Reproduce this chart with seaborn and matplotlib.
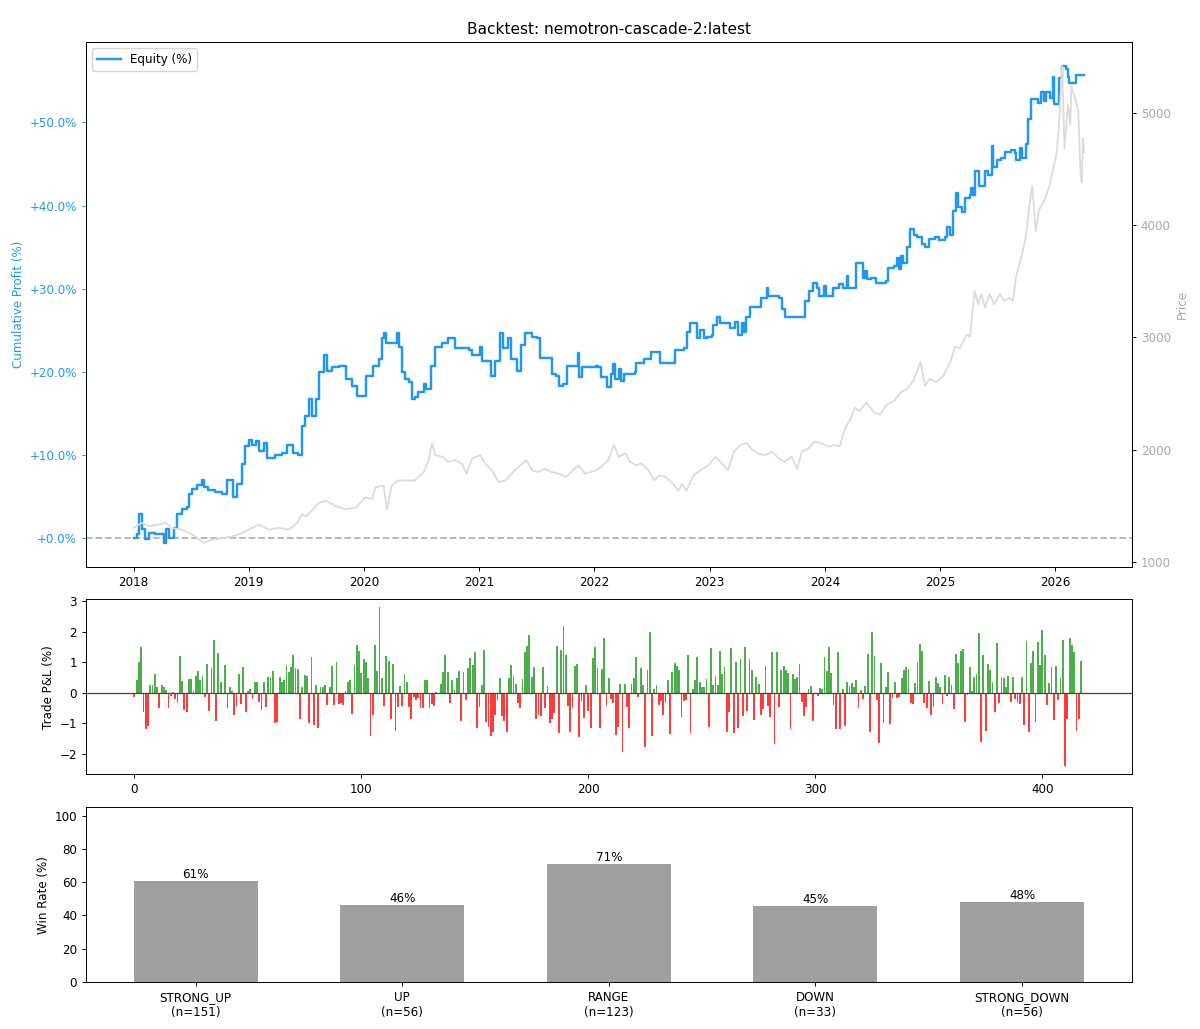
# Backtest chart: equity curve + price, trade P&L bars, win rate per regime
# =============================================================

import matplotlib
matplotlib.use("Agg")
import matplotlib.pyplot as plt
from matplotlib.ticker import FuncFormatter
import seaborn as sns

# -------------------------------------------------------------
# DATA
# -------------------------------------------------------------

TITLE = "Backtest: nemotron-cascade-2:latest"

# Equity curve (%) - decimal year / value
EQ_YEARS = [
    2018.00, 2018.03, 2018.05, 2018.07, 2018.10, 2018.13, 2018.19, 2018.24, 2018.26, 2018.28,
    2018.31, 2018.35, 2018.38, 2018.42, 2018.46, 2018.48, 2018.51, 2018.55, 2018.59, 2018.61,
    2018.65, 2018.71, 2018.77, 2018.81, 2018.86, 2018.90, 2018.94, 2018.97, 2019.00, 2019.03,
    2019.06, 2019.09, 2019.13, 2019.16, 2019.23, 2019.29, 2019.33, 2019.38, 2019.43, 2019.46,
    2019.49, 2019.52, 2019.55, 2019.58, 2019.61, 2019.65, 2019.68, 2019.72, 2019.78, 2019.84,
    2019.90, 2019.94, 2019.99, 2020.02, 2020.08, 2020.13, 2020.16, 2020.17, 2020.19, 2020.25,
    2020.29, 2020.30, 2020.33, 2020.36, 2020.39, 2020.42, 2020.44, 2020.47, 2020.52, 2020.54,
    2020.58, 2020.62, 2020.68, 2020.73, 2020.76, 2020.79, 2020.91, 2020.94, 2021.01, 2021.02,
    2021.07, 2021.10, 2021.14, 2021.18, 2021.21, 2021.25, 2021.28, 2021.33, 2021.36, 2021.40,
    2021.43, 2021.46, 2021.50, 2021.53, 2021.60, 2021.63, 2021.67, 2021.69, 2021.73, 2021.76,
    2021.83, 2021.86, 2021.87, 2021.89, 2022.01, 2022.03, 2022.06, 2022.11, 2022.14, 2022.16,
    2022.18, 2022.21, 2022.23, 2022.26, 2022.35, 2022.36, 2022.43, 2022.49, 2022.56, 2022.57,
    2022.69, 2022.70, 2022.78, 2022.80, 2022.83, 2022.88, 2022.89, 2022.92, 2022.95, 2022.98,
    2023.02, 2023.03, 2023.06, 2023.09, 2023.16, 2023.18, 2023.22, 2023.25, 2023.28, 2023.30,
    2023.32, 2023.35, 2023.42, 2023.45, 2023.50, 2023.51, 2023.60, 2023.63, 2023.65, 2023.80,
    2023.83, 2023.86, 2023.90, 2023.93, 2023.95, 2023.99, 2024.01, 2024.07, 2024.12, 2024.16,
    2024.19, 2024.20, 2024.25, 2024.27, 2024.30, 2024.33, 2024.35, 2024.37, 2024.40, 2024.44,
    2024.48, 2024.53, 2024.55, 2024.60, 2024.63, 2024.64, 2024.66, 2024.68, 2024.71, 2024.74,
    2024.77, 2024.80, 2024.83, 2024.84, 2024.87, 2024.90, 2024.96, 2024.99, 2025.04, 2025.06,
    2025.09, 2025.11, 2025.14, 2025.16, 2025.19, 2025.22, 2025.26, 2025.27, 2025.29, 2025.30,
    2025.33, 2025.34, 2025.37, 2025.39, 2025.42, 2025.45, 2025.46, 2025.49, 2025.53, 2025.56,
    2025.62, 2025.65, 2025.66, 2025.69, 2025.71, 2025.75, 2025.76, 2025.79, 2025.83, 2025.85,
    2025.88, 2025.90, 2025.92, 2025.95, 2025.98, 2025.99, 2026.03, 2026.06, 2026.09, 2026.11,
    2026.12, 2026.18, 2026.25,
]
EQ_VALUES = [
    0.0, 0.5, 2.8, 1.0, -0.2, 0.6, 0.4, 0.5, -0.6, 1.0,
    0.0, 1.2, 2.8, 3.5, 3.7, 5.3, 5.9, 6.3, 6.9, 6.1,
    5.7, 5.5, 5.3, 6.9, 4.9, 6.5, 8.9, 11.0, 11.8, 11.2,
    11.6, 10.4, 11.4, 9.6, 10.0, 10.2, 11.2, 10.2, 10.0, 13.4,
    14.6, 16.7, 14.6, 16.7, 19.9, 22.0, 20.1, 20.5, 20.7, 19.1,
    18.3, 17.1, 17.1, 19.5, 20.7, 21.5, 24.0, 24.6, 23.4, 23.4,
    24.6, 23.0, 19.9, 19.1, 18.7, 16.7, 16.9, 17.5, 18.5, 17.9,
    20.7, 23.0, 23.4, 24.0, 24.0, 22.8, 22.6, 22.0, 23.0, 21.3,
    21.3, 19.5, 21.3, 24.6, 22.8, 24.0, 21.5, 20.1, 23.2, 24.6,
    24.6, 24.2, 24.0, 21.7, 21.7, 19.7, 19.5, 18.3, 18.5, 20.7,
    20.7, 22.2, 19.3, 20.5, 20.7, 20.5, 19.3, 18.1, 19.7, 20.9,
    19.1, 20.3, 18.9, 19.7, 19.9, 21.1, 21.5, 22.4, 22.4, 21.1,
    21.1, 22.6, 22.8, 24.8, 25.8, 25.8, 24.0, 25.0, 24.0, 24.2,
    24.4, 25.6, 26.6, 25.8, 25.8, 25.2, 26.0, 24.4, 25.8, 24.8,
    26.6, 27.8, 27.8, 28.9, 30.1, 29.1, 28.9, 27.6, 26.6, 26.6,
    28.5, 29.7, 30.7, 30.1, 29.1, 30.3, 29.1, 30.1, 30.5, 30.1,
    31.5, 30.1, 30.1, 33.1, 33.1, 31.3, 32.1, 31.1, 31.3, 30.7,
    30.7, 30.9, 32.5, 32.7, 33.7, 32.3, 33.9, 33.1, 35.0, 37.2,
    36.4, 36.2, 36.2, 35.4, 35.0, 36.0, 36.2, 35.8, 36.2, 37.4,
    36.4, 39.4, 41.5, 39.8, 39.2, 40.9, 41.3, 42.1, 41.3, 44.1,
    44.1, 42.3, 42.3, 44.1, 43.7, 47.2, 44.7, 45.5, 45.7, 46.5,
    46.7, 46.3, 45.5, 46.9, 45.7, 47.4, 50.4, 52.8, 52.8, 52.4,
    53.7, 52.6, 53.7, 53.0, 55.5, 52.2, 55.3, 56.8, 56.5, 55.5,
    54.7, 55.7, 55.7,
]

# Price (right axis) - decimal year / value
PRICE_YEARS = [
    2018.00, 2018.07, 2018.13, 2018.22, 2018.28, 2018.33, 2018.42, 2018.51, 2018.61, 2018.68,
    2018.77, 2018.86, 2018.94, 2019.00, 2019.09, 2019.17, 2019.26, 2019.35, 2019.42, 2019.46,
    2019.50, 2019.57, 2019.61, 2019.67, 2019.75, 2019.84, 2019.93, 2020.01, 2020.07, 2020.10,
    2020.17, 2020.20, 2020.24, 2020.30, 2020.39, 2020.44, 2020.52, 2020.56, 2020.59, 2020.62,
    2020.68, 2020.73, 2020.79, 2020.85, 2020.89, 2020.94, 2021.01, 2021.05, 2021.11, 2021.17,
    2021.23, 2021.28, 2021.34, 2021.41, 2021.46, 2021.51, 2021.57, 2021.63, 2021.69, 2021.75,
    2021.80, 2021.86, 2021.92, 2022.01, 2022.06, 2022.12, 2022.17, 2022.21, 2022.27, 2022.31,
    2022.36, 2022.41, 2022.47, 2022.52, 2022.56, 2022.62, 2022.67, 2022.73, 2022.76, 2022.80,
    2022.86, 2022.92, 2022.99, 2023.05, 2023.11, 2023.16, 2023.21, 2023.27, 2023.32, 2023.37,
    2023.42, 2023.48, 2023.54, 2023.60, 2023.65, 2023.71, 2023.76, 2023.80, 2023.86, 2023.91,
    2023.97, 2024.03, 2024.09, 2024.13, 2024.17, 2024.22, 2024.26, 2024.30, 2024.36, 2024.43,
    2024.48, 2024.54, 2024.60, 2024.66, 2024.71, 2024.77, 2024.83, 2024.87, 2024.91, 2024.97,
    2025.03, 2025.09, 2025.13, 2025.17, 2025.23, 2025.26, 2025.30, 2025.33, 2025.36, 2025.39,
    2025.43, 2025.47, 2025.52, 2025.56, 2025.60, 2025.63, 2025.66, 2025.69, 2025.72, 2025.75,
    2025.77, 2025.80, 2025.83, 2025.86, 2025.91, 2025.95, 2025.98, 2026.01, 2026.03, 2026.06,
    2026.08, 2026.11, 2026.13, 2026.14, 2026.16, 2026.18, 2026.20, 2026.22, 2026.23, 2026.24,
    2026.25,
]
PRICE_VALUES = [
    1302, 1347, 1317, 1332, 1347, 1302, 1287, 1242, 1170, 1196,
    1211, 1226, 1257, 1287, 1332, 1287, 1302, 1287, 1347, 1423,
    1408, 1483, 1528, 1544, 1498, 1468, 1483, 1574, 1559, 1664,
    1679, 1468, 1679, 1725, 1725, 1725, 1800, 1906, 2057, 1951,
    1936, 1891, 1906, 1876, 1785, 1921, 1951, 1876, 1815, 1710,
    1725, 1785, 1846, 1906, 1815, 1800, 1830, 1800, 1785, 1755,
    1800, 1861, 1785, 1815, 1846, 1906, 2042, 1936, 1966, 1891,
    1861, 1876, 1815, 1725, 1770, 1755, 1710, 1634, 1695, 1634,
    1770, 1815, 1861, 1936, 1876, 1815, 1981, 2042, 2060, 2000,
    1966, 1951, 1981, 1921, 1891, 1936, 1830, 1981, 2012, 2072,
    2057, 2027, 2042, 2027, 2178, 2268, 2374, 2344, 2419, 2329,
    2314, 2404, 2434, 2510, 2540, 2616, 2782, 2570, 2631, 2601,
    2661, 2782, 2918, 2903, 3023, 3008, 3416, 3295, 3386, 3265,
    3386, 3295, 3386, 3325, 3356, 3325, 3537, 3658, 3778, 3929,
    4141, 4352, 3945, 4141, 4231, 4352, 4503, 4624, 4866, 5420,
    4684, 5077, 4896, 5243, 5168, 5107, 5017, 4443, 4382, 4775,
    4654,
]

# P&L of each trade (%)
TRADE_PNL = [
    -0.15, 0.4, 1.0, 1.5, -0.65, -1.2, -1.1, 0.25, 0.25, 0.6,
    0.17, -0.5, 0.25, 0.17, 0.1, -0.5, -0.12, 0.03, -0.2, -0.35,
    1.2, 0.38, -0.57, -0.65, 0.45, 0.45, 0.07, 0.56, 0.7, 0.4,
    0.56, -0.15, 0.94, -0.6, 0.81, 1.74, -0.92, 1.3, 0.36, -0.05,
    0.92, -0.5, 0.17, 0.05, -0.75, -0.45, 0.6, -0.38, 0.85, -0.63,
    0.05, 0.12, -0.2, 0.36, 0.36, -0.32, -0.57, 0.36, -0.48, 0.5,
    0.5, 0.72, -1.0, -0.95, 0.53, 0.34, 0.43, 0.92, 0.67, 0.83,
    1.24, 0.82, 0.78, -0.87, 0.2, 0.58, 0.56, -1.0, 1.16, -1.05,
    0.25, -1.17, 0.17, 0.17, 0.25, -0.4, 0.17, 0.89, -0.4, 1.02,
    -0.37, -0.35, -0.4, 0.07, 0.34, 0.4, -0.7, 0.92, 1.58, 1.38,
    0.64, 1.09, 1.0, 0.47, -1.41, -0.72, 1.57, 0.71, 2.8, 0.47,
    -0.43, 1.2, 1.04, -0.87, 0.94, -1.25, -0.48, 0.23, -0.43, 0.61,
    0.36, -0.46, -0.87, -0.15, -0.23, -0.19, -0.5, -0.5, 0.43, 0.43,
    -0.5, -0.37, -0.45, 0.03, -0.04, 0.29, 0.67, 1.24, 0.67, -0.34,
    0.42, 0.09, 0.47, 0.72, -0.92, 0.69, -0.23, 0.8, 1.14, 0.92,
    1.35, -1.15, -0.48, 0.26, 1.4, -0.98, -1.14, -1.41, -1.28, -0.72,
    -0.24, 0.48, -0.78, -0.92, -1.3, 0.47, 0.92, 0.56, 0.29, -0.35,
    -0.52, 0.45, 1.35, 1.54, 1.91, 0.53, 0.83, -0.85, -0.72, -0.78,
    0.83, -0.5, 0.23, -1.0, -0.85, -0.68, 1.54, -1.33, 1.41, 2.19,
    1.25, -0.43, -1.28, -0.5, 0.88, 0.94, -1.47, -0.26, -0.84, 0.25,
    -0.59, -1.16, 1.13, 1.49, 0.81, -1.17, 0.78, 1.79, -0.45, 0.47,
    -0.2, -0.34, -1.39, -1.14, 0.29, -1.96, 0.29, -0.48, -1.17, 0.29,
    0.48, 1.16, -0.15, 0.81, 0.25, -1.8, 0.75, 1.98, -1.41, 0.12,
    0.25, -0.4, -0.26, -0.72, -0.35, 0.42, -1.36, 0.67, 0.98, 0.87,
    0.75, -0.81, -0.27, -0.24, 1.25, -1.33, 0.12, 0.42, 1.17, 0.34,
    0.2, 0.2, 0.45, -1.12, 1.47, 0.25, 0.56, 0.25, 1.38, 0.6,
    0.83, -1.3, -0.65, 1.46, -1.31, 1.0, -1.17, 1.1, -0.78, 1.5,
    -0.6, 1.1, 0.75, -0.9, 0.5, 0.3, -0.72, -0.55, 0.87, -0.43,
    -0.8, 1.33, -1.69, 1.33, -0.48, 0.76, 0.89, 0.75, 0.65, -1.2,
    0.61, 0.45, 0.5, 0.94, -0.32, -0.76, -0.48, 0.12, 0.23, -0.92,
    -0.05, -0.1, 0.15, 0.12, 1.18, 0.72, 1.51, 0.64, -0.4, -1.2,
    1.33, -1.2, 0.12, -1.1, 0.36, 0.23, 0.32, 0.17, 0.4, -0.52,
    0.09, -0.2, 0.23, 1.27, -1.3, 2.0, 1.22, -0.23, -1.66, 0.98,
    -1.0, 0.2, 0.69, -1.03, -0.18, 0.36, -0.18, -0.13, 0.48, 0.76,
    0.85, 0.78, -0.34, -0.37, 0.32, 1.02, 1.6, 1.38, -0.35, -0.5,
    0.37, -0.73, -0.46, 0.53, 0.32, 0.2, -0.37, 0.59, -0.12, 0.53,
    0.26, -0.54, 1.27, 0.98, 1.38, 1.44, -0.95, -0.08, 0.83, 0.07,
    0.53, 0.61, 1.96, -1.63, 1.24, -1.27, 0.94, 0.76, 0.36, -0.62,
    1.63, -0.34, 0.53, 0.47, 0.17, 0.56, -0.32, 0.5, -0.2, -0.34,
    -0.37, 0.5, -1.06, 1.71, -1.3, 0.96, 1.38, -0.95, 1.65, 0.92,
    2.07, 1.24, -0.39, 0.32, 0.83, -0.9, 0.89, -0.23, 0.48, 1.74,
    -2.42, -0.87, 1.8, 1.55, 1.33, -1.27, -0.87, 1.05,
]

# Win rate by market regime
REGIMES = ["STRONG_UP", "UP", "RANGE", "DOWN", "STRONG_DOWN"]
REGIME_N = [151, 56, 123, 33, 56]
WIN_RATE = [60.93, 46.43, 70.73, 45.45, 48.21]

# -------------------------------------------------------------
# STYLE
# -------------------------------------------------------------

COLOR_EQUITY = "#2196F3"
COLOR_PRICE = "#dcdcdc"
COLOR_WIN = "#2ca02c"
COLOR_LOSS = "#ff1a1a"
COLOR_BAR = "#a0a0a0"

# the reference was drawn a bit smaller than matplotlib defaults
plt.rcParams["font.size"] = 8.6
plt.rcParams["axes.linewidth"] = 0.7
plt.rcParams["xtick.major.size"] = 3
plt.rcParams["ytick.major.size"] = 3
plt.rcParams["xtick.major.width"] = 0.7
plt.rcParams["ytick.major.width"] = 0.7
plt.rcParams["axes.labelpad"] = 3.4

# -------------------------------------------------------------
# FIGURE
# -------------------------------------------------------------

fig, (ax1, ax3, ax4) = plt.subplots(
    3, 1, figsize=(12, 10.29), dpi=100,
    gridspec_kw={"height_ratios": [3, 1, 1]}
)
fig.subplots_adjust(left=0.0717, right=0.943, top=0.959, bottom=0.0457, hspace=0.113)

# --- Panel 1: equity + price ---
sns.lineplot(x=EQ_YEARS, y=EQ_VALUES, ax=ax1, color=COLOR_EQUITY, linewidth=1.75,
             drawstyle="steps-post", label="Equity (%)", sort=False, estimator=None)
ax1.axhline(0, color="gray", linestyle="--", alpha=0.6, linewidth=1.3)
ax1.set_ylabel("Cumulative Profit (%)", color=COLOR_EQUITY)
ax1.tick_params(axis="y", colors=COLOR_EQUITY)
ax1.yaxis.set_major_formatter(FuncFormatter(lambda v, _: f"{v:+.1f}%"))
ax1.set_xticks(range(2018, 2027))
ax1.set_xticklabels([str(y) for y in range(2018, 2027)])
ax1.set_title(TITLE, fontsize=11.1)
ax1.legend(loc="upper left")

ax2 = ax1.twinx()
sns.lineplot(x=PRICE_YEARS, y=PRICE_VALUES, ax=ax2, color=COLOR_PRICE, linewidth=1.3,
             sort=False, estimator=None)
ax2.set_ylabel("Price", color="darkgray")
ax2.tick_params(axis="y", labelcolor="darkgray")

# --- Panel 2: P&L per trade ---
indices = list(range(len(TRADE_PNL)))
result = ["win" if p > 0 else "loss" for p in TRADE_PNL]
sns.barplot(x=indices, y=TRADE_PNL, hue=result, ax=ax3, native_scale=True,
            palette={"win": COLOR_WIN, "loss": COLOR_LOSS}, alpha=0.85,
            saturation=1, dodge=False, legend=False, errorbar=None, width=0.8)
ax3.axhline(0, color="#444444", linewidth=0.9)
ax3.set_ylabel("Trade P&L (%)")
ax3.set_xticks([0, 100, 200, 300, 400])
ax3.set_xticklabels(["0", "100", "200", "300", "400"])
ax3.set_xlim(-21.3, 439.3)

# --- Panel 3: win rate per regime ---
labels = [f"{r}\n(n={n})" for r, n in zip(REGIMES, REGIME_N)]
sns.barplot(x=labels, y=WIN_RATE, ax=ax4, color=COLOR_BAR, width=0.6,
            saturation=1, errorbar=None)
ax4.bar_label(ax4.containers[0], labels=[f"{v:.0f}%" for v in WIN_RATE])
ax4.set_ylim(0, 105)
ax4.set_xlim(-0.53, 4.53)
ax4.set_ylabel("Win Rate (%)")

fig.savefig("out.png", dpi=100)
